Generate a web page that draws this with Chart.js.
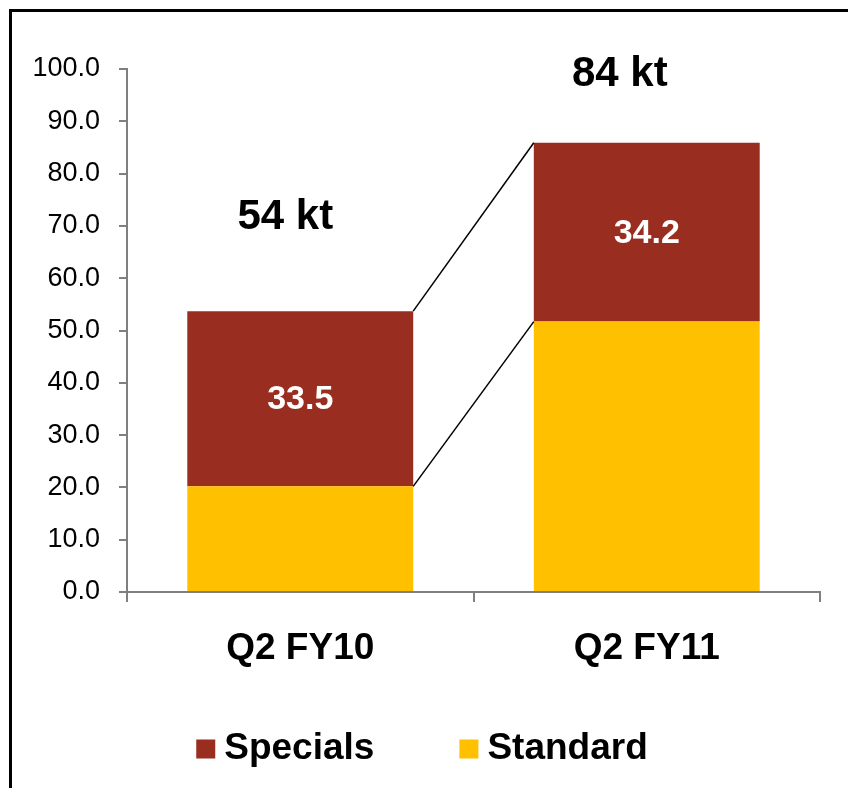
<!DOCTYPE html>
<html>
<head>
<title>Sales volume Q2 FY10 vs Q2 FY11</title>
<script src="https://cdn.jsdelivr.net/npm/chart.js"></script>
<style>
    body {
        margin: 0;
        background-color: white;
    }
    #wrap {
        width: 848px;
        height: 788px;
    }
</style>
</head>
<body>
<div id="wrap"><canvas id="volChart" width="848" height="788"></canvas></div>
<script>
    const quarters = ['Q2 FY10', 'Q2 FY11'];
    const standardValues = [20.2, 51.7];
    const specialsValues = [33.5, 34.2];
    const totalLabels = ['54 kt', '84 kt'];

    const FONT = "'Liberation Sans', Arial, sans-serif";
    const AXIS_GREY = '#7f7f7f';
    const SPECIALS_RED = '#992d20';
    const STANDARD_YELLOW = '#ffc000';

    // where the "xx kt" headings sit relative to the top of each stack
    const totalOffsets = [[-15, -94], [-27, -68]];

    const extrasPlugin = {
        id: 'extras',
        beforeDraw(chart) {
            const ctx = chart.ctx;
            ctx.save();
            ctx.strokeStyle = '#000';
            ctx.lineWidth = 3;
            ctx.strokeRect(10.5, 10.5, 1000, 1000);
            ctx.restore();
        },
        afterDatasetsDraw(chart) {
            const ctx = chart.ctx;
            const stdBars = chart.getDatasetMeta(0).data;
            const specBars = chart.getDatasetMeta(1).data;
            ctx.save();

            // connector lines between the two stacks
            ctx.strokeStyle = '#000';
            ctx.lineWidth = 1.5;
            [stdBars, specBars].forEach(bars => {
                for (let i = 0; i < bars.length - 1; i++) {
                    const a = bars[i], b = bars[i + 1];
                    ctx.beginPath();
                    ctx.moveTo(a.x + a.width / 2, a.y);
                    ctx.lineTo(b.x - b.width / 2, b.y);
                    ctx.stroke();
                }
            });

            // specials value inside the red segment
            ctx.fillStyle = '#fff';
            ctx.font = 'bold 34px ' + FONT;
            ctx.textAlign = 'center';
            ctx.textBaseline = 'middle';
            specBars.forEach((bar, i) => {
                ctx.fillText(specialsValues[i].toFixed(1), bar.x, (bar.y + bar.base) / 2 + 1);
            });

            // totals above each stack
            ctx.fillStyle = '#000';
            ctx.font = 'bold 42px ' + FONT;
            specBars.forEach((bar, i) => {
                ctx.fillText(totalLabels[i], bar.x + totalOffsets[i][0], bar.y + totalOffsets[i][1]);
            });

            // legend, specials first
            ctx.font = 'bold 37px ' + FONT;
            ctx.textAlign = 'left';
            const items = chart.data.datasets.slice().reverse();
            const box = 19, gapText = 9, gapItems = 85;
            const widths = items.map(ds => box + gapText + ctx.measureText(ds.label).width);
            const total = widths.reduce((s, w) => s + w, 0) + gapItems * (items.length - 1);
            let x = (chart.width - total) / 2 - 2;
            const cy = 749;
            items.forEach((ds, i) => {
                ctx.fillStyle = ds.backgroundColor;
                ctx.fillRect(x, cy - box / 2, box, box);
                ctx.fillStyle = '#000';
                ctx.fillText(ds.label, x + box + gapText, cy);
                x += widths[i] + gapItems;
            });
            ctx.restore();
        }
    };

    const ctx = document.getElementById('volChart').getContext('2d');
    const volChart = new Chart(ctx, {
        type: 'bar',
        data: {
            labels: quarters,
            datasets: [{
                label: 'Standard',
                data: standardValues,
                backgroundColor: STANDARD_YELLOW,
                categoryPercentage: 1,
                barPercentage: 0.652
            }, {
                label: 'Specials',
                data: specialsValues,
                backgroundColor: SPECIALS_RED,
                categoryPercentage: 1,
                barPercentage: 0.652
            }]
        },
        options: {
            responsive: false,
            animation: false,
            layout: {
                padding: { left: 0, right: 28, top: 69, bottom: 96 }
            },
            plugins: {
                legend: { display: false },
                tooltip: { enabled: false }
            },
            scales: {
                x: {
                    stacked: true,
                    afterFit(scale) { scale.height = 100; },
                    grid: {
                        drawOnChartArea: false,
                        color: AXIS_GREY,
                        lineWidth: 2,
                        tickLength: 10
                    },
                    border: { color: AXIS_GREY, width: 2 },
                    ticks: {
                        color: '#000',
                        padding: 25,
                        font: { family: FONT, size: 37, weight: 'bold' }
                    }
                },
                y: {
                    stacked: true,
                    min: 0,
                    max: 100,
                    afterFit(scale) { scale.width = 127; },
                    grid: {
                        drawOnChartArea: false,
                        color: AXIS_GREY,
                        lineWidth: 2,
                        tickLength: 8
                    },
                    border: { color: AXIS_GREY, width: 2 },
                    ticks: {
                        stepSize: 10,
                        color: '#000',
                        padding: 19,
                        font: { family: FONT, size: 27 },
                        callback: v => v.toFixed(1)
                    }
                }
            }
        },
        plugins: [extrasPlugin]
    });
</script>
</body>
</html>
